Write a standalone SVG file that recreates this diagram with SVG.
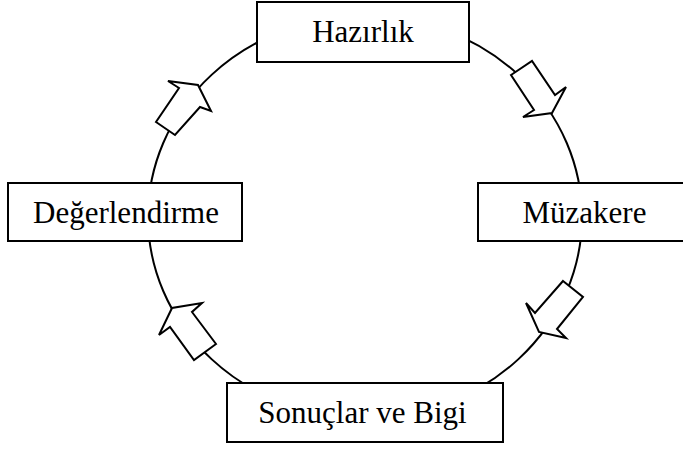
<svg xmlns="http://www.w3.org/2000/svg" width="683" height="449" viewBox="0 0 683 449">
<style>
.box{fill:#fff;stroke:#000;stroke-width:2}
.lbl{font-family:"Liberation Serif","Times New Roman",serif;font-size:31px;fill:#000;text-anchor:middle}
.ring{fill:none;stroke:#000;stroke-width:2}
.arr{fill:#fff;stroke:#000;stroke-width:2;stroke-linejoin:miter}
</style>
<rect width="683" height="449" fill="#fff"/>
<g id="connectors">
<ellipse class="ring" cx="365" cy="217" rx="217" ry="201"/>
<polygon class="arr" points="511,75 532,61 555,95 566,87 552,113 523,117 534,110"/>
<polygon class="arr" points="563,281 583,297 557,329 566,338 539,332 526,303 535,313"/>
<polygon class="arr" points="216,344 194,360 170,327 159,335 172,308 202,303 192,312"/>
<polygon class="arr" points="156,122 175,135 200,107 211,111 198,85 168,81 179,88"/>
</g>
<g id="node-hazirlik">
<rect class="box" x="257" y="2" width="212" height="60"/>
<text class="lbl" x="363" y="42">Hazırlık</text>
</g>
<g id="node-muzakere">
<rect class="box" x="478" y="183" width="213" height="58"/>
<text class="lbl" x="584.5" y="223">Müzakere</text>
</g>
<g id="node-sonuclar">
<rect class="box" x="227" y="383" width="276" height="59"/>
<text class="lbl" x="362.5" y="423">Sonuçlar ve Bigi</text>
</g>
<g id="node-degerlendirme">
<rect class="box" x="8" y="183" width="234" height="58"/>
<text class="lbl" x="126" y="223">Değerlendirme</text>
</g>
</svg>
